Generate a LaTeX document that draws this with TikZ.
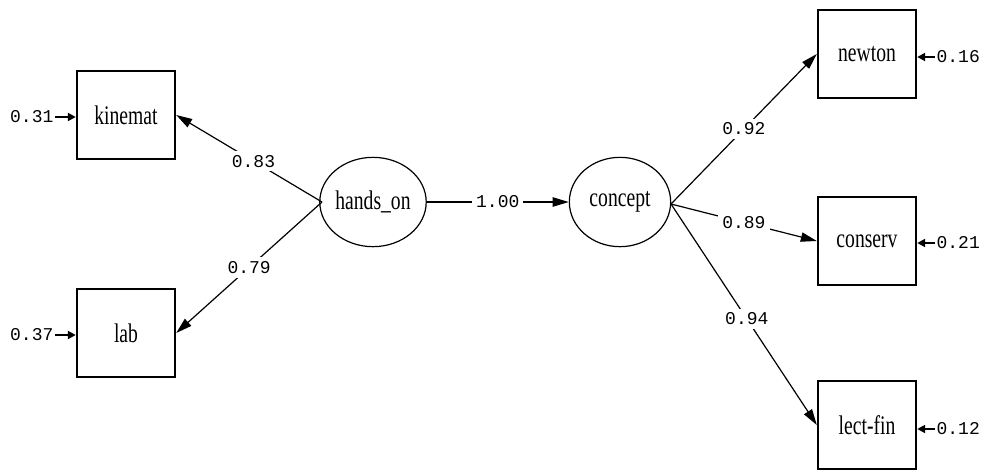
\documentclass[tikz,border=0pt]{standalone}
\usepackage{fontspec}
\setmainfont{Liberation Serif}
\setmonofont{Liberation Mono}
\usetikzlibrary{arrows.meta,shapes.geometric}
\newcommand{\tallt}[1]{\scalebox{0.95}[1.3]{#1}}
\begin{document}
\begin{tikzpicture}[x=0.75pt,y=-0.75pt,
  obs/.style={draw,line width=1.3pt,minimum width=74pt,minimum height=66pt,inner sep=0pt,font=\fontsize{15.5}{18}\selectfont},
  lat/.style={draw,ellipse,line width=0.9pt,minimum width=76pt,minimum height=67pt,inner sep=0pt,font=\fontsize{15.5}{18}\selectfont},
  num/.style={font=\ttfamily\fontsize{13.5}{15}\selectfont,inner sep=1pt},
  lbl/.style={num,fill=white,inner sep=3pt},
  path/.style={line width=0.9pt,-{Triangle[length=12pt,width=7pt]}},
  errarr/.style={line width=1.6pt,-{Triangle[length=6pt,width=6pt]}}]
\useasboundingbox (0,0) rectangle (984,472);
\node[obs] (kin) at (126,115) {\tallt{kinemat}};
\node[obs] (lab) at (126,333) {\tallt{lab}};
\node[lat] (hands) at (373,202) {\tallt{hands\_on}};
\node[lat] (conc) at (620,202) {\tallt{concept}};
\node[obs] (newt) at (867,54) {\tallt{newton}};
\node[obs] (cons) at (867,241) {\tallt{conserv}};
\node[obs] (lect) at (867,425) {\tallt{lect-fin}};
% error terms
\node[num,anchor=east] (e1) at (55,117) {0.31};
\node[num,anchor=east] (e2) at (55,335) {0.37};
\node[num,anchor=west] (e3) at (935,57) {0.16};
\node[num,anchor=west] (e4) at (935,243) {0.21};
\node[num,anchor=west] (e5) at (935,429) {0.12};
\draw[errarr] (e1.east) -- (e1.east -| kin.west);
\draw[errarr] (e2.east) -- (e2.east -| lab.west);
\draw[errarr] (e3.west) -- (e3.west -| newt.east);
\draw[errarr] (e4.west) -- (e4.west -| cons.east);
\draw[errarr] (e5.west) -- (e5.west -| lect.east);
% paths
\coordinate (hL) at (322,202);
\coordinate (cR) at (671,204);
\draw[path] (hL) -- node[lbl,pos=0.47] {0.83} (kin.east);
\draw[path] (hL) -- node[lbl,pos=0.5] {0.79} (lab.east);
\draw[path] (hands.east) -- node[lbl,pos=0.5] {1.00} (conc.west);
\draw[path] (cR) -- node[lbl,pos=0.5] {0.92} (newt.west);
\draw[path] (cR) -- node[lbl,pos=0.5] {0.89} (cons.west);
\draw[path] (cR) -- node[lbl,pos=0.52] {0.94} (lect.west);
\end{tikzpicture}
\end{document}
